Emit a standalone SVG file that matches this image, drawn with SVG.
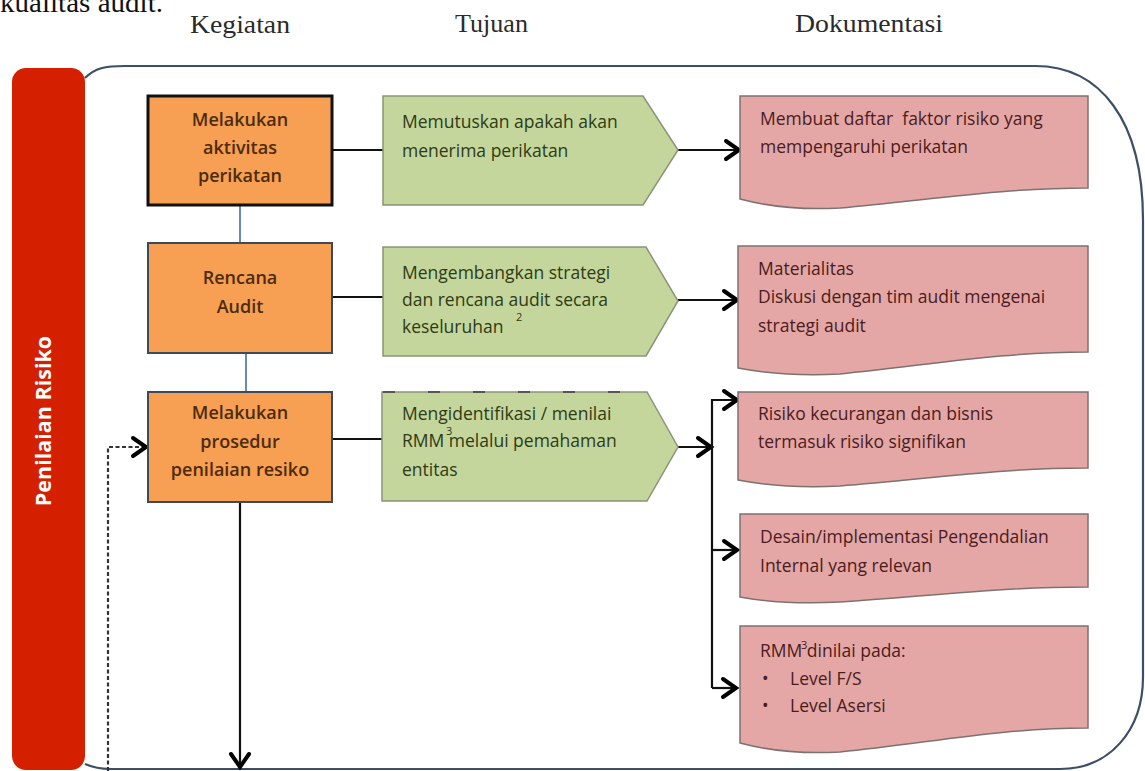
<svg xmlns="http://www.w3.org/2000/svg" width="1145" height="771" viewBox="0 0 1145 771">
<defs>
<style>
.hdr{font-family:"Liberation Serif","Times New Roman",serif;font-size:25px;fill:#2a2a2a}
.org{fill:#f79f52}
.ot{font-family:"Open Sans","Noto Sans",sans-serif;font-size:18px;font-weight:600;fill:#4d2b0b;text-anchor:middle}
.grn{fill:#c4d69b;stroke:#8a9478;stroke-width:1.5}
.gt{font-family:"Open Sans","Noto Sans",sans-serif;font-size:17.5px;fill:#2e3b16}
.pnk{fill:#e5a6a6;stroke:#7d7272;stroke-width:1.5}
.pt{font-family:"Open Sans","Noto Sans",sans-serif;font-size:17.5px;fill:#4a1c1c}
.sup{font-family:"Open Sans","Noto Sans",sans-serif;font-size:11px}
.ln{fill:none;stroke:#111;stroke-width:2.2}
.bl{fill:none;stroke:#6a8ab5;stroke-width:2}
</style>
<marker id="arr" markerUnits="userSpaceOnUse" markerWidth="22" markerHeight="24" refX="16" refY="12" orient="auto">
<path d="M3,3 L16,12 L3,21" fill="none" stroke="#000" stroke-width="4" stroke-linecap="round" stroke-linejoin="miter"/>
</marker>
</defs>
<rect width="1145" height="771" fill="#fff"/>

<text x="0" y="12" font-family="Liberation Serif, serif" font-size="27" fill="#111" textLength="163" lengthAdjust="spacingAndGlyphs">kualitas audit.</text>

<g id="headers">
<text class="hdr" x="190" y="33" textLength="100" lengthAdjust="spacingAndGlyphs">Kegiatan</text>
<text class="hdr" x="455" y="32" textLength="73" lengthAdjust="spacingAndGlyphs">Tujuan</text>
<text class="hdr" x="795" y="32" textLength="148" lengthAdjust="spacingAndGlyphs">Dokumentasi</text>
</g>

<g id="container">
<path d="M85,78 C95,68 105,66 125,66 L1035,66 C1100,66 1143,120 1143,220 L1143,677 C1143,730 1110,769 1060,769 L110,769 C100,769 92,767 85,764" fill="none" stroke="#3d4f66" stroke-width="2.2"/>
</g>

<g id="lane">
<rect x="12" y="68" width="73" height="702" rx="14" fill="#d52000"/>
<text transform="translate(51,421) rotate(-90)" text-anchor="middle" font-family="Open Sans, Noto Sans, sans-serif" font-size="21.5" font-weight="700" fill="#fff">Penilaian Risiko</text>
</g>

<g id="connectors">
<path class="bl" d="M240,205 V243"/>
<path class="bl" d="M246,353 V392"/>
<path class="ln" d="M332,150 H383"/>
<path class="ln" d="M332,297 H383"/>
<path class="ln" d="M332,439 H382"/>
<path class="ln" d="M678,150 H739" marker-end="url(#arr)"/>
<path class="ln" d="M678,300 H737" marker-end="url(#arr)"/>
<path class="ln" d="M678,447 H711" marker-end="url(#arr)"/>
<path class="ln" d="M712,688 V400 H737" marker-end="url(#arr)"/>
<path class="ln" d="M712,550 H737" marker-end="url(#arr)"/>
<path class="ln" d="M712,688 H736" marker-end="url(#arr)"/>
<path class="ln" d="M240,502 V767" marker-end="url(#arr)"/>
<path d="M108,771 V447 H146" fill="none" stroke="#333" stroke-width="2.2" stroke-dasharray="4 2.5" marker-end="url(#arr)"/>
</g>

<g id="k1">
<rect class="org" x="148" y="96" width="184" height="109" stroke="#111" stroke-width="3"/>
<text class="ot" x="240" y="126">Melakukan</text>
<text class="ot" x="240" y="154">aktivitas</text>
<text class="ot" x="240" y="182">perikatan</text>
</g>
<g id="k2">
<rect class="org" x="148" y="243" width="184" height="110" stroke="#3d4a5c" stroke-width="2"/>
<text class="ot" x="240" y="284">Rencana</text>
<text class="ot" x="240" y="313">Audit</text>
</g>
<g id="k3">
<rect class="org" x="148" y="392" width="184" height="110" stroke="#3d4a5c" stroke-width="2"/>
<text class="ot" x="240" y="419">Melakukan</text>
<text class="ot" x="240" y="448">prosedur</text>
<text class="ot" x="240" y="476">penilaian resiko</text>
</g>

<g id="t1">
<path class="grn" d="M383,96 H643 L678,150 L643,205 H383 Z"/>
<text class="gt" x="402" y="128">Memutuskan apakah akan</text>
<text class="gt" x="402" y="157">menerima perikatan</text>
</g>
<g id="t2">
<path class="grn" d="M383,247 H646 L678,301 L646,356 H383 Z"/>
<text class="gt" x="402" y="279">Mengembangkan strategi</text>
<text class="gt" x="402" y="306">dan rencana audit secara</text>
<text class="gt" x="402" y="333">keseluruhan</text>
<text class="sup" x="516" y="321" fill="#2e3b16">2</text>
</g>
<g id="t3">
<path class="grn" d="M382,392 H647 L678,447 L647,501 H382 Z"/>
<path d="M383,392 H640" fill="none" stroke="#555" stroke-width="2" stroke-dasharray="12 33"/>
<text class="gt" x="402" y="420">Mengidentifikasi / menilai</text>
<text class="gt" x="402" y="447">RMM melalui pemahaman</text>
<text class="gt" x="402" y="476">entitas</text>
<text class="sup" x="446" y="435" fill="#2e3b16">3</text>
</g>

<g id="d1">
<path class="pnk" d="M740,96 H1088 V188 C1000,188 930,200 840,208 Q785,211 740,199 Z"/>
<text class="pt" x="760" y="125" xml:space="preserve">Membuat daftar  faktor risiko yang</text>
<text class="pt" x="760" y="153">mempengaruhi perikatan</text>
</g>
<g id="d2">
<path class="pnk" d="M738,246 H1088 V352 C1000,352 930,365 840,374 Q785,377 738,368 Z"/>
<text class="pt" x="758" y="275">Materialitas</text>
<text class="pt" x="758" y="303">Diskusi dengan tim audit mengenai</text>
<text class="pt" x="758" y="332">strategi audit</text>
</g>
<g id="d3">
<path class="pnk" d="M738,392 H1088 V468 C1000,468 930,479 840,486 Q785,489 738,480 Z"/>
<text class="pt" x="758" y="420">Risiko kecurangan dan bisnis</text>
<text class="pt" x="758" y="448">termasuk risiko signifikan</text>
</g>
<g id="d4">
<path class="pnk" d="M740,514 H1088 V587 C1000,587 930,596 840,602 Q785,605 740,597 Z"/>
<text class="pt" x="760" y="543">Desain/implementasi Pengendalian</text>
<text class="pt" x="760" y="572">Internal yang relevan</text>
</g>
<g id="d5">
<path class="pnk" d="M740,626 H1088 V728 C1000,728 930,743 840,752 Q785,755 740,743 Z"/>
<text class="pt" x="760" y="657">RMM dinilai pada:</text>
<text class="sup" x="801" y="649" fill="#4a1c1c">3</text>
<text class="pt" x="762" y="685">•</text>
<text class="pt" x="790" y="685">Level F/S</text>
<text class="pt" x="762" y="712">•</text>
<text class="pt" x="790" y="712">Level Asersi</text>
</g>
</svg>
